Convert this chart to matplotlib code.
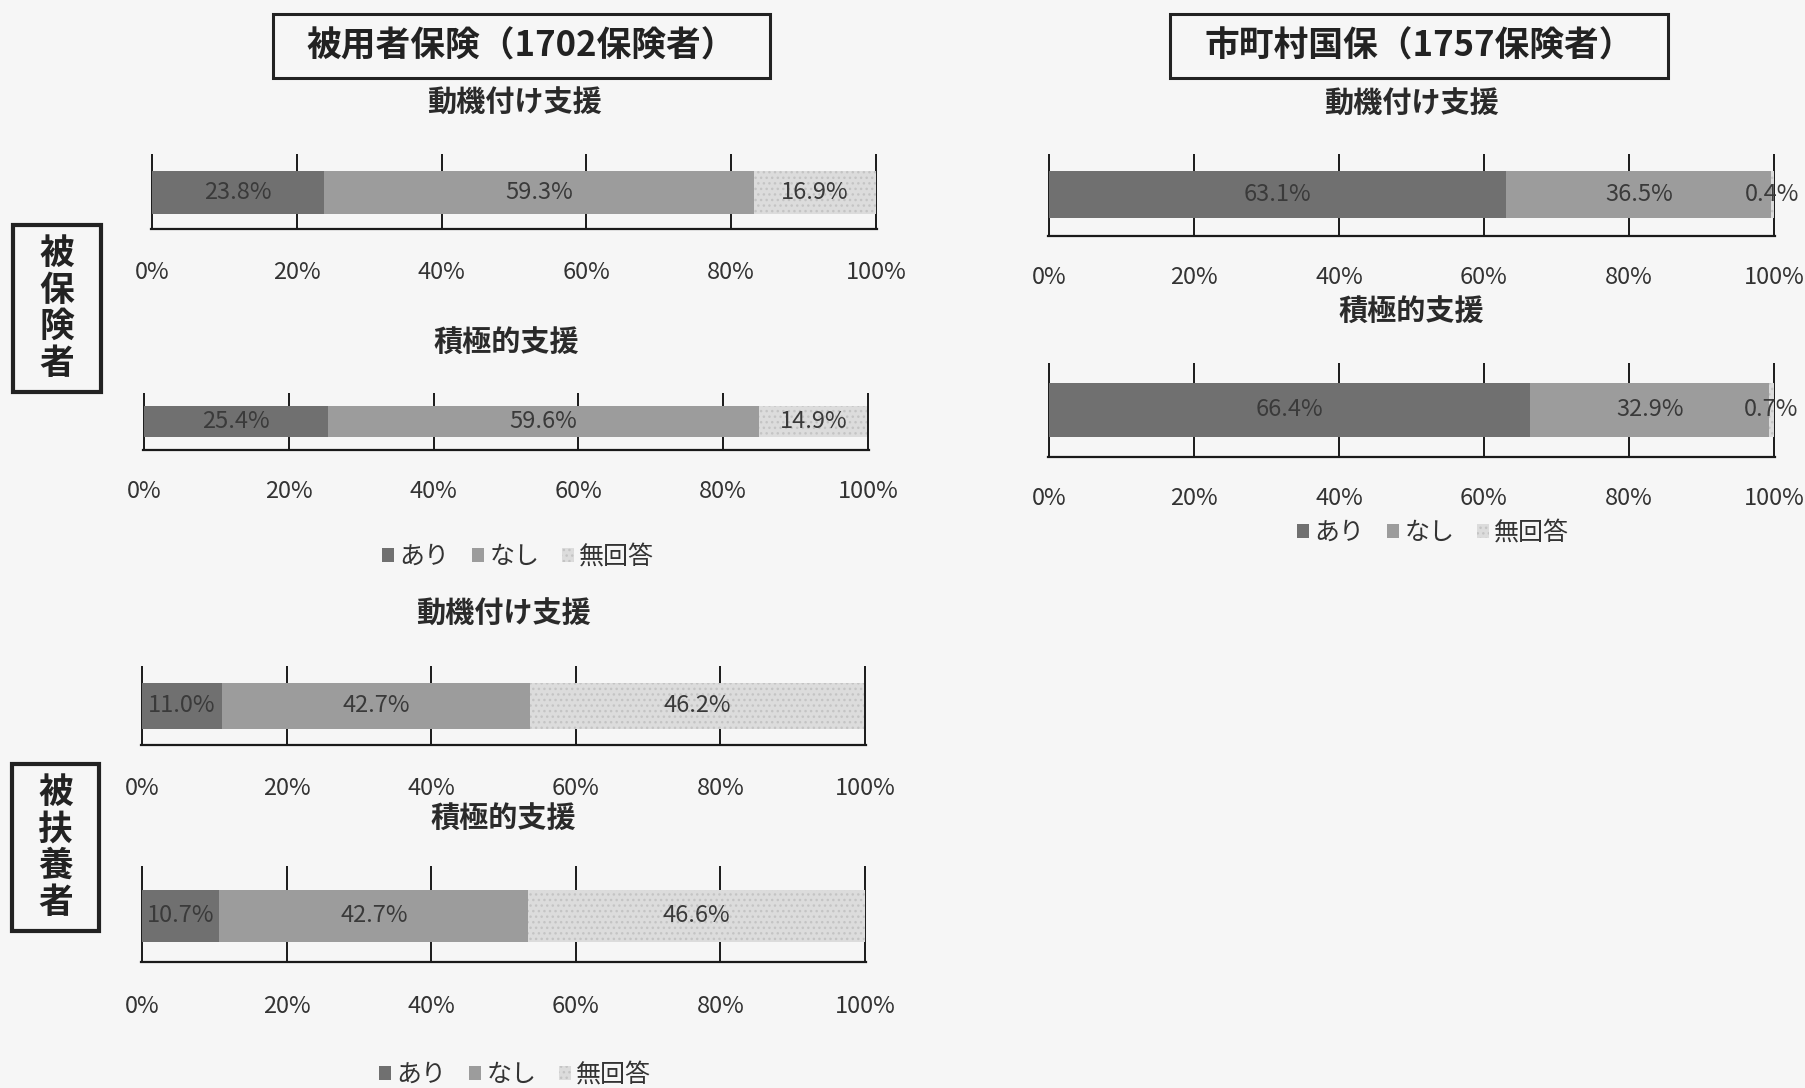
import matplotlib
matplotlib.use('Agg')
import matplotlib.pyplot as plt
from matplotlib.patches import Rectangle

plt.rcParams['font.family'] = ['Noto Sans CJK JP', 'DejaVu Sans']
plt.rcParams['hatch.color'] = '#c4c4c4'
plt.rcParams['hatch.linewidth'] = 1.0

# data (percent)
categories = ['あり', 'なし', '無回答']
hiho_motivation = [23.8, 59.3, 16.9]
hiho_active = [25.4, 59.6, 14.9]
fuyo_motivation = [11.0, 42.7, 46.2]
fuyo_active = [10.7, 42.7, 46.6]
kokuho_motivation = [63.1, 36.5, 0.4]
kokuho_active = [66.4, 32.9, 0.7]
ticks = [0, 20, 40, 60, 80, 100]
tick_labels = ['0%', '20%', '40%', '60%', '80%', '100%']

colors = ['#707070', '#9c9c9c', '#dcdcdc']
hatches = [None, None, '...']

W, H = 1806, 1088
fig = plt.figure(figsize=(W / 100, H / 100), dpi=100, facecolor='#f6f6f6')


def fx(x):
    return x / W


def fy(y):
    return 1 - y / H


# layout in pixels: x0, x1, grid top, spine, bar top, bar bottom, tick label y, title y
panels = [
    (hiho_motivation, '動機付け支援', 151, 877, 154, 229, 171, 214, 273, 103),
    (hiho_active, '積極的支援', 143, 869, 393, 450, 406, 437, 492, 342),
    (fuyo_motivation, '動機付け支援', 141, 866, 666, 745, 683, 729, 789, 614),
    (fuyo_active, '積極的支援', 141, 866, 866, 962, 890, 942, 1007, 818),
    (kokuho_motivation, '動機付け支援', 1048, 1775, 154, 236, 171, 218, 278, 104),
    (kokuho_active, '積極的支援', 1048, 1775, 363, 457, 383, 437, 499, 311),
]

handles = None
for vals, title, x0, x1, yt, yb, bt, bb, ly, ty in panels:
    ax = fig.add_axes([fx(x0), fy(yb), (x1 - x0) / W, (yb - yt) / H])
    ax.set_facecolor('none')
    ax.set_xlim(-0.15, 100.15)
    ax.set_ylim(0, 1)
    hgt = (bb - bt) / (yb - yt)
    yc = (yb - (bt + bb) / 2) / (yb - yt)
    left = 0
    bars = []
    for v, c, h, name in zip(vals, colors, hatches, categories):
        b = ax.barh(yc, v, left=left, height=hgt, color=c, hatch=h,
                    linewidth=0, label=name, zorder=2)
        ax.text(left + v / 2, yc, f'{v:.1f}%', ha='center', va='center',
                fontsize=17, color='#3a3a3a', zorder=3)
        bars.append(b)
        left += v
    if handles is None:
        handles = bars
    ax.set_xticks(ticks)
    ax.set_xticklabels(tick_labels, fontsize=17, color='#333333')
    ax.set_yticks([])
    ax.grid(axis='x', color='#1a1a1a', linewidth=1.4, zorder=1)
    ax.tick_params(axis='x', length=0, pad=(ly - yb - 12) * 0.72)
    for s in ['top', 'left', 'right']:
        ax.spines[s].set_visible(False)
    ax.spines['bottom'].set_color('#1a1a1a')
    ax.spines['bottom'].set_linewidth(1.6)
    fig.text(fx((x0 + x1) / 2), fy(ty), title, ha='center', va='center',
             fontsize=21, fontweight='bold', color='#2a2a2a')

# legends
for cx, cy in [(518, 557), (515, 1075), (1433, 533)]:
    fig.legend(handles, categories, loc='center', bbox_to_anchor=(fx(cx), fy(cy)),
               ncol=3, frameon=False, fontsize=18, handlelength=0.5,
               handleheight=0.5, handletextpad=0.2, columnspacing=0.9,
               labelcolor='#333333')

# title boxes
for (x0, y0, x1, y1), txt in [((273, 14, 770, 78), '被用者保険（1702保険者）'),
                             ((1170, 14, 1668, 78), '市町村国保（1757保険者）')]:
    fig.patches.append(Rectangle((fx(x0), fy(y1)), (x1 - x0) / W, (y1 - y0) / H,
                                 transform=fig.transFigure, fill=False,
                                 edgecolor='#222222', linewidth=2.2))
    fig.text(fx((x0 + x1) / 2), fy((y0 + y1) / 2), txt, ha='center', va='center',
             fontsize=25, fontweight='bold', color='#222222')

# group label boxes
for (x0, y0, x1, y1), txt in [((13, 225, 101, 392), '被\n保\n険\n者'),
                             ((12, 764, 99, 931), '被\n扶\n養\n者')]:
    fig.patches.append(Rectangle((fx(x0), fy(y1)), (x1 - x0) / W, (y1 - y0) / H,
                                 transform=fig.transFigure, fill=False,
                                 edgecolor='#222222', linewidth=3))
    fig.text(fx((x0 + x1) / 2), fy((y0 + y1) / 2), txt, ha='center', va='center',
             fontsize=25, fontweight='bold', color='#222222', linespacing=1.05)

fig.savefig('out.png', dpi=100, facecolor=fig.get_facecolor())
